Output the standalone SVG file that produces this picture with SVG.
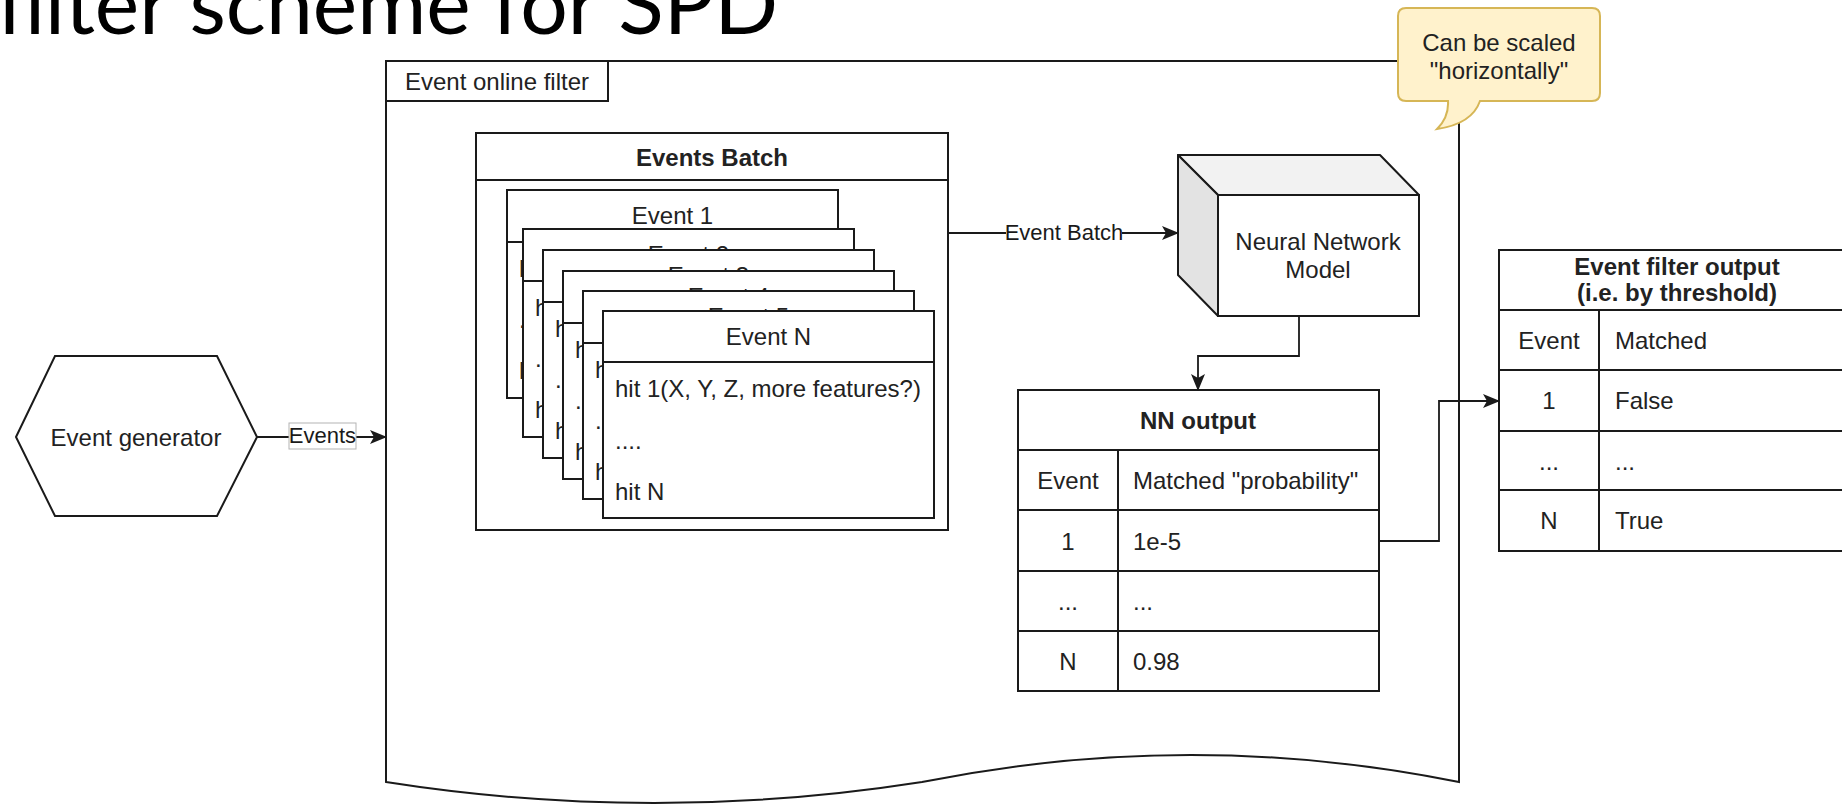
<svg xmlns="http://www.w3.org/2000/svg" width="1842" height="805" viewBox="0 0 1842 805">
<style>
.bx{fill:#fff;stroke:#1a1a1a;stroke-width:2}
.ln{fill:none;stroke:#1a1a1a;stroke-width:2}
.edge{fill:none;stroke:#1a1a1a;stroke-width:1.8}
.t{font-family:"Liberation Sans",Arial,sans-serif;font-size:24px;fill:#222}
.b{font-weight:bold}
.m{text-anchor:middle}
.el{font-family:"Liberation Sans",Arial,sans-serif;font-size:22px;fill:#1a1a1a;text-anchor:middle}
.title{font-family:Lato,"Open Sans",sans-serif;font-size:84px;fill:#000}
</style>
<defs>
<marker id="arr" markerUnits="userSpaceOnUse" markerWidth="18" markerHeight="16" refX="16" refY="7" orient="auto" overflow="visible">
<path d="M0,0 L17,7 L0,14 L4,7 Z" fill="#1a1a1a"/>
</marker>
</defs>
<rect width="1842" height="805" fill="#fff"/>
<text class="title" x="-3" y="34">filter scheme for SPD</text>

<g id="container">
<path class="bx" d="M386,61 H1459 V782 Q1191,728 922,782 Q654,824 386,782 Z"/>
<rect class="bx" x="386" y="61" width="222" height="40"/>
<text class="t m" x="497" y="90">Event online filter</text>
</g>

<g id="generator">
<polygon class="bx" points="16,437 55,356 217,356 257,437 217,516 55,516"/>
<text class="t m" x="136" y="446">Event generator</text>
</g>

<g id="events-batch">
<rect class="bx" x="476" y="133" width="472" height="397"/>
<line class="ln" x1="476" y1="180" x2="948" y2="180"/>
<text class="t b m" x="712" y="166">Events Batch</text>
<g id="card1" transform="translate(507,190)">
<rect class="bx" width="331" height="208"/><line class="ln" x1="0" y1="52" x2="331" y2="52"/>
<text class="t m" x="165.5" y="34">Event 1</text>
<text class="t" x="12" y="87">hit 1(X, Y, Z, more features?)</text><text class="t" x="12" y="138">....</text><text class="t" x="12" y="189">hit N</text>
</g>
<g id="card2" transform="translate(523,229)">
<rect class="bx" width="331" height="208"/><line class="ln" x1="0" y1="52" x2="331" y2="52"/>
<text class="t m" x="165.5" y="34">Event 2</text>
<text class="t" x="12" y="87">hit 1(X, Y, Z, more features?)</text><text class="t" x="12" y="138">....</text><text class="t" x="12" y="189">hit N</text>
</g>
<g id="card3" transform="translate(543,250)">
<rect class="bx" width="331" height="208"/><line class="ln" x1="0" y1="52" x2="331" y2="52"/>
<text class="t m" x="165.5" y="34">Event 3</text>
<text class="t" x="12" y="87">hit 1(X, Y, Z, more features?)</text><text class="t" x="12" y="138">....</text><text class="t" x="12" y="189">hit N</text>
</g>
<g id="card4" transform="translate(563,271)">
<rect class="bx" width="331" height="208"/><line class="ln" x1="0" y1="52" x2="331" y2="52"/>
<text class="t m" x="165.5" y="34">Event 4</text>
<text class="t" x="12" y="87">hit 1(X, Y, Z, more features?)</text><text class="t" x="12" y="138">....</text><text class="t" x="12" y="189">hit N</text>
</g>
<g id="card5" transform="translate(583,291)">
<rect class="bx" width="331" height="208"/><line class="ln" x1="0" y1="52" x2="331" y2="52"/>
<text class="t m" x="165.5" y="34">Event 5</text>
<text class="t" x="12" y="87">hit 1(X, Y, Z, more features?)</text><text class="t" x="12" y="138">....</text><text class="t" x="12" y="189">hit N</text>
</g>
<g id="cardN" transform="translate(603,311)">
<rect class="bx" width="331" height="207"/><line class="ln" x1="0" y1="51" x2="331" y2="51"/>
<text class="t m" x="165.5" y="34">Event N</text>
<text class="t" x="12" y="86">hit 1(X, Y, Z, more features?)</text><text class="t" x="12" y="138">....</text><text class="t" x="12" y="189">hit N</text>
</g>
</g>

<g id="nn-model">
<polygon points="1178,155 1380,155 1419,195 1218,195" fill="#f2f2f2" stroke="#1a1a1a" stroke-width="2" stroke-linejoin="round"/>
<polygon points="1178,155 1218,195 1218,316 1178,275" fill="#e3e3e3" stroke="#1a1a1a" stroke-width="2" stroke-linejoin="round"/>
<rect class="bx" x="1218" y="195" width="201" height="121"/>
<text class="t m" x="1318" y="250">Neural Network</text>
<text class="t m" x="1318" y="278">Model</text>
</g>

<g id="nn-output">
<rect class="bx" x="1018" y="390" width="361" height="301"/>
<path class="ln" d="M1018,450 H1379 M1018,510 H1379 M1018,571 H1379 M1018,631 H1379 M1118,450 V691"/>
<text class="t b m" x="1198" y="429">NN output</text>
<text class="t m" x="1068" y="489">Event</text><text class="t" x="1133" y="489">Matched "probability"</text>
<text class="t m" x="1068" y="550">1</text><text class="t" x="1133" y="550">1e-5</text>
<text class="t m" x="1068" y="610">...</text><text class="t" x="1133" y="610">...</text>
<text class="t m" x="1068" y="670">N</text><text class="t" x="1133" y="670">0.98</text>
</g>

<g id="filter-output">
<rect class="bx" x="1499" y="250" width="361" height="301"/>
<path class="ln" d="M1499,310 H1860 M1499,370 H1860 M1499,431 H1860 M1499,490 H1860 M1599,310 V551"/>
<text class="t b m" x="1677" y="275">Event filter output</text>
<text class="t b m" x="1677" y="301">(i.e. by threshold)</text>
<text class="t m" x="1549" y="349">Event</text><text class="t" x="1615" y="349">Matched</text>
<text class="t m" x="1549" y="409">1</text><text class="t" x="1615" y="409">False</text>
<text class="t m" x="1549" y="470">...</text><text class="t" x="1615" y="470">...</text>
<text class="t m" x="1549" y="529">N</text><text class="t" x="1615" y="529">True</text>
</g>

<g id="connectors">
<path class="edge" d="M257,437 H386" marker-end="url(#arr)"/>
<rect x="289" y="423" width="67" height="26" fill="#fff" stroke="#b3b3b3" stroke-width="1"/>
<text class="el" x="322.5" y="443">Events</text>
<path class="edge" d="M948,233 H1178" marker-end="url(#arr)"/>
<rect x="1006" y="220" width="116" height="26" fill="#fff"/>
<text class="el" x="1064" y="240">Event Batch</text>
<path class="edge" d="M1299,316 V356 H1198 V390" marker-end="url(#arr)"/>
<path class="edge" d="M1379,541 H1439 V401 H1499" marker-end="url(#arr)"/>
</g>

<g id="note">
<path d="M1406,8 H1592 Q1600,8 1600,16 V93 Q1600,101 1592,101 H1480 Q1472,124 1437,129 Q1449,117 1448,101 H1406 Q1398,101 1398,93 V16 Q1398,8 1406,8 Z" fill="#fff2cc" stroke="#d6b656" stroke-width="2"/>
<text class="t m" x="1499" y="51">Can be scaled</text>
<text class="t m" x="1499" y="79">"horizontally"</text>
</g>
</svg>
